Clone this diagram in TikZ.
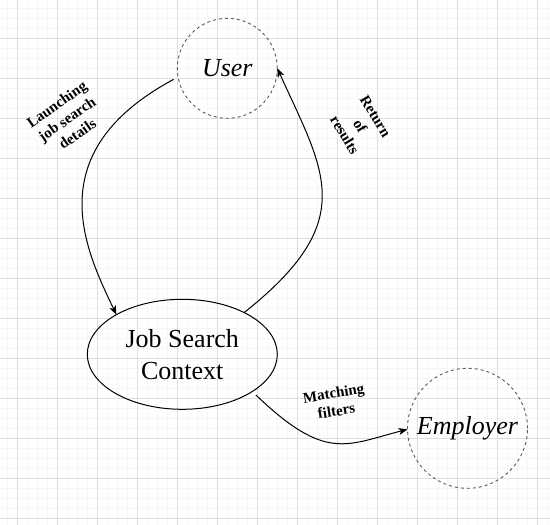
\documentclass[tikz,border=0pt]{standalone}
\usepackage{fontspec}
\setmainfont{Liberation Serif}
\usetikzlibrary{shapes.geometric,arrows.meta}
\begin{document}
\begin{tikzpicture}[x=1pt,y=-1pt,
  minorgrid/.style={draw=black!3.5, line width=0.6pt},
  majorgrid/.style={draw=black!13, line width=0.8pt},
  actor/.style={circle, draw=black!65, dash pattern=on 3pt off 3pt, line width=0.9pt, inner sep=0pt, outer sep=0pt, font=\fontsize{26}{32}\selectfont\itshape},
  ctx/.style={ellipse, draw=black, line width=1pt, minimum width=190pt, minimum height=110pt, inner sep=0pt, outer sep=0pt, align=center, font=\fontsize{26}{32}\selectfont},
  flow/.style={draw=black, line width=1pt, -{Stealth[length=9pt,width=7pt,inset=2.5pt]}},
  flowlabel/.style={align=center, font=\fontsize{15}{18}\selectfont\bfseries, inner sep=0pt}]

\useasboundingbox (0,0) rectangle (550,525);
\fill[white] (0,0) rectangle (550,525);

% grid
\foreach \x in {7.3,17.3,...,547.3} \draw[minorgrid] (\x,0) -- (\x,525);
\foreach \y in {8.3,18.3,...,518.3} \draw[minorgrid] (0,\y) -- (550,\y);
\foreach \x in {17.3,57.3,...,537.3} \draw[majorgrid] (\x,0) -- (\x,525);
\foreach \y in {38.3,78.3,...,518.3} \draw[majorgrid] (0,\y) -- (550,\y);

% nodes
\node[actor, minimum size=100pt] (user) at (227.3,68.3) {User};
\node[ctx] (jsc) at (182.3,354.3) {Job Search\\Context};
\node[actor, minimum size=120pt] (emp) at (467.5,428.3) {Employer};

% connectors
\draw[flow, shorten <=5pt] (user.190.5) .. controls (37.3,152.6) and (85.8,250.4) .. (jsc.149.5);
\draw[flow] (jsc.34.6) .. controls (359.9,220.6) and (324.7,172.7) .. (user.0);
\draw[flow, shorten <=5pt] (jsc.-28.9) .. controls (325.9,462) and (346.1,445) .. (emp.181);

% labels
\node[flowlabel, rotate=35] (l1) at (67,119) {Launching\\job search\\details};
\node[flowlabel, rotate=-59] (l2) at (360,126) {Return\\of\\results};
\node[flowlabel, rotate=9] (l3) at (335,402) {Matching\\filters};
\end{tikzpicture}
\end{document}
